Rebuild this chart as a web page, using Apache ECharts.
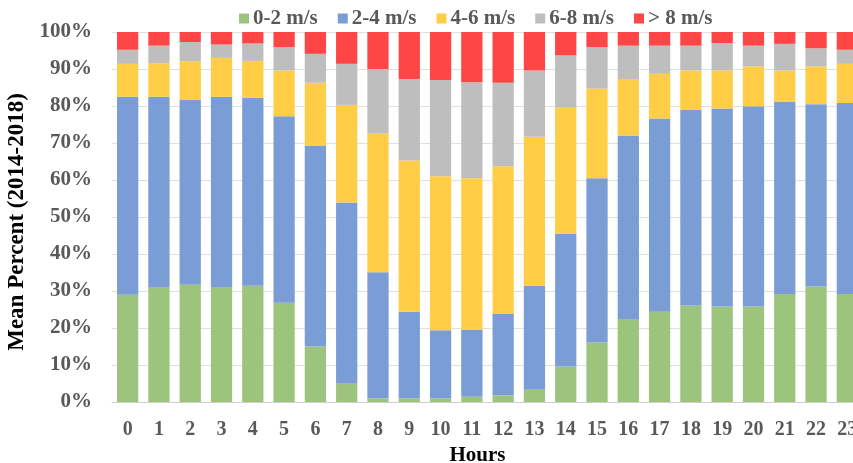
<!DOCTYPE html>
<html>
<head>
<meta charset="utf-8">
<script src="https://cdn.jsdelivr.net/npm/echarts@6/dist/echarts.min.js"></script>
<style>html,body{margin:0;padding:0;background:#fff}#c{width:853px;height:463px}</style>
</head>
<body>
<div id="c"></div>
<script>
const hours = ['0','1','2','3','4','5','6','7','8','9','10','11','12','13','14','15','16','17','18','19','20','21','22','23'];
const seriesNames = ['0-2 m/s', '2-4 m/s', '4-6 m/s', '6-8 m/s', '> 8 m/s'];
const s0_2 = [29.0,31.1,31.7,31.1,31.4,26.8,15.0,4.9,1.0,1.0,1.0,1.4,1.8,3.3,9.6,16.1,22.4,24.4,26.1,25.8,25.8,29.2,31.2,29.2];
const s2_4 = [53.5,51.4,49.9,51.4,50.8,50.4,54.3,49.0,34.1,23.4,18.4,18.2,22.0,28.1,35.9,44.4,49.6,52.2,52.8,53.5,54.1,52.0,49.3,51.6];
const s4_6 = [8.9,9.1,10.5,10.5,10.0,12.4,17.0,26.4,37.5,40.9,41.6,40.9,39.9,40.3,34.0,24.2,15.3,12.1,10.7,10.3,10.8,8.4,10.2,10.6];
const s6_8 = [3.8,4.7,5.2,3.6,4.7,6.3,7.8,11.1,17.4,22.0,26.0,25.9,22.6,17.9,14.2,11.2,9.0,7.6,6.7,7.4,5.6,7.2,4.9,3.8];
const s8p  = [4.8,3.7,2.7,3.4,3.1,4.1,5.9,8.6,10.0,12.7,13.0,13.6,13.7,10.4,6.3,4.1,3.7,3.7,3.7,3.0,3.7,3.2,4.4,4.8];
const yTicks = [0,10,20,30,40,50,60,70,80,90,100];

const colors = ['#9CC47D','#7B9DD6','#FFCD46','#BEBEBE','#FF4646'];
const values = [s0_2, s2_4, s4_6, s6_8, s8p];
const font = '"Liberation Serif", "Times New Roman", serif';

const chart = echarts.init(document.getElementById('c'), null, {renderer:'canvas'});
chart.setOption({
  animation: false,
  color: colors,
  legend: {
    left: 234, top: 3,
    itemWidth: 10, itemHeight: 10, itemGap: 20,
    icon: 'rect',
    textStyle: {fontFamily: font, fontWeight: 'bold', fontSize: 21, color: '#595959', padding: [0,0,0,-1]},
    data: seriesNames
  },
  grid: {left: 112, top: 32, width: 751, height: 370, outerBoundsMode: 'none', containLabel: false},
  xAxis: {
    type: 'category', data: hours,
    axisTick: {show: false},
    axisLine: {lineStyle: {color: '#d0d0d0', width: 1}},
    axisLabel: {fontFamily: font, fontWeight: 'bold', fontSize: 20, color: '#595959', margin: 18, interval: 0},
    name: 'Hours', nameLocation: 'middle', nameGap: 39,
    nameTextStyle: {fontFamily: font, fontWeight: 'bold', fontSize: 21, color: '#000', padding: [0,20,0,0]}
  },
  yAxis: {
    type: 'value', min: yTicks[0], max: yTicks[yTicks.length-1], interval: 10,
    axisLine: {show: false}, axisTick: {show: false},
    splitLine: {lineStyle: {color: '#e0e0e0', width: 1}},
    axisLabel: {formatter: '{value}%', fontFamily: font, fontWeight: 'bold', fontSize: 21, color: '#595959', margin: 20},
    name: 'Mean Percent (2014-2018)', nameLocation: 'middle', nameGap: 80, nameRotate: 90,
    nameTextStyle: {fontFamily: font, fontWeight: 'bold', fontSize: 23, color: '#000', padding: [0,10,0,0]}
  },
  series: values.map((v, i) => ({
    name: seriesNames[i], type: 'bar', stack: 'total', data: v,
    barWidth: '68%',
    itemStyle: {color: colors[i]}
  }))
});
</script>
</body>
</html>
